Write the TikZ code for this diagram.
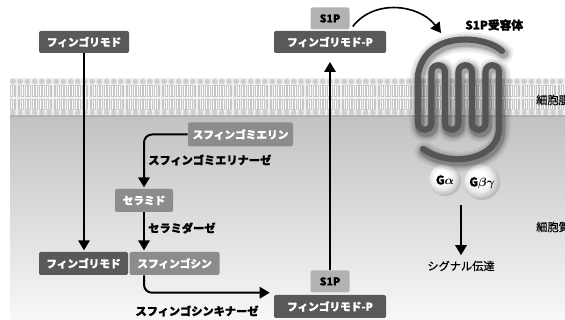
\documentclass[tikz,border=0pt]{standalone}
\usepackage{fontspec}
\setmainfont{Noto Sans CJK JP}[BoldFeatures={FakeBold=1.2}]
\newfontfamily\jpmed{Noto Sans CJK JP}[FakeBold=0.6]
\usetikzlibrary{arrows.meta,positioning}

\definecolor{drugbox}{HTML}{595959}
\definecolor{lipidbox}{HTML}{8C8C8C}
\definecolor{sopbox}{HTML}{B2B2B2}
\definecolor{rcptline}{HTML}{555555}
\definecolor{membrane}{HTML}{F0F0F0}

% shading for the G protein balls
\pgfdeclareradialshading{gball}{\pgfpoint{-7bp}{7bp}}{%
  color(0bp)=(white); color(10bp)=(white); color(18bp)=(black!7);
  color(24bp)=(black!20); color(27bp)=(black!28); color(50bp)=(black!28)}

% the receptor strand, seven helices
\newcommand\rcptpath{(502,51) .. controls (485,35) and (425,30) .. (418,75)
  -- (418,123) .. controls (418,132) and (431.5,132) .. (431.5,123)
  -- (431.5,72) .. controls (431.5,63) and (445,63) .. (445,72)
  -- (445,123) .. controls (445,132) and (458.5,132) .. (458.5,123)
  -- (458.5,72) .. controls (458.5,63) and (472,63) .. (472,72)
  -- (472,123) .. controls (472,132) and (485.5,132) .. (485.5,123)
  -- (485.5,72) .. controls (485.5,63) and (499,63) .. (499,72)
  -- (499,128) .. controls (499,160) and (450,168) .. (423,149)}

\begin{document}
\begin{tikzpicture}[x=0.75pt,y=-0.75pt,
  box/.style={rounded corners=1.5pt, inner sep=0pt, text=white,
    font=\fontsize{8}{9}\selectfont\bfseries},
  darkbox/.style={box, fill=drugbox},
  midbox/.style={box, fill=lipidbox},
  s1pbox/.style={box, fill=sopbox, text=black, minimum width=29.25pt, minimum height=16.5pt},
  enzyme/.style={inner sep=0pt, font=\fontsize{8.4}{10}\selectfont\bfseries},
  plain/.style={inner sep=0pt, font=\fontsize{8.4}{10}\selectfont\jpmed},
  flow/.style={line width=1.5pt, -{Triangle[width=8.5pt,length=7.5pt]}},
  lipidhead/.style={fill=black!19},
  lipidtail/.style={draw=black!22, fill=white, line width=0.3pt},
]
\useasboundingbox (0,0) rectangle (565,320);
\clip (0,0) rectangle (565,320);

% cytoplasm and bilayer
\shade[top color=black!24, bottom color=black!3] (10,116) rectangle (565,320);
\fill[membrane] (10,78) rectangle (565,116);
\foreach \x in {13,20.2,...,566} {
  \foreach \dx in {-1.6,1.6} {
    \draw[lipidtail] (\x+\dx-0.9,85) rectangle (\x+\dx+0.9,96.5);
    \draw[lipidtail] (\x+\dx-0.9,99.5) rectangle (\x+\dx+0.9,109);
  }
  \fill[lipidhead] (\x,81.5) circle[radius=2.1pt];
  \fill[lipidhead] (\x,112.5) circle[radius=2.1pt];
}
\fill[black!30] (10,115.5) rectangle (565,117);

% G proteins
\shade[shading=gball] (445,180) circle[radius=12pt];
\shade[shading=gball] (482,182) circle[radius=13.5pt];
\node[inner sep=0pt, font=\fontsize{9}{10}\selectfont\bfseries] (ga) at (445,180) {G{\boldmath$\alpha$}};
\node[inner sep=0pt, font=\fontsize{9}{10}\selectfont\bfseries] (gbg) at (482,183) {G{\boldmath$\beta\gamma$}};

% receptor with its soft shadow
\foreach \w/\o in {15pt/0.06,12pt/0.08,9pt/0.12,7pt/0.15}
  \draw[black, opacity=\o, line width=\w, line cap=round, line join=round,
    shift={(1.5,2.5)}] \rcptpath;
\draw[rcptline, line width=4.6pt, line cap=round, line join=round] \rcptpath;
\node[enzyme, anchor=west, font=\fontsize{8.8}{10}\selectfont\bfseries] (rcpt) at (465,25) {S1P受容体};

% boxes
\node[darkbox, minimum width=67.5pt, minimum height=16.5pt] (fing) at (84,42) {フィンゴリモド};
\node[darkbox, minimum width=66.75pt, minimum height=17.25pt] (fingb) at (83.5,263.5) {フィンゴリモド};
\node[midbox, minimum width=67.5pt, minimum height=17.25pt, right=0.75pt of fingb] (sph) {スフィンゴシン};
\node[midbox, minimum width=43.5pt, minimum height=17.25pt] (cer) at (144,200.5) {セラミド};
\node[midbox, minimum width=78.75pt, minimum height=18pt] (sm) at (240.5,134.5) {スフィンゴミエリン};
\node[darkbox, minimum width=84pt, minimum height=16.5pt] (fingPt) at (330,42) {フィンゴリモド-P};
\node[s1pbox, above=0.75pt of fingPt] (s1pt) {S1P};
\node[darkbox, minimum width=84pt, minimum height=17.25pt] (fingPb) at (330,306.5) {フィンゴリモド-P};
\node[s1pbox, above=1.5pt of fingPb] (s1pb) {S1P};

% enzyme labels
\node[enzyme, anchor=west] (smase) at (148,160) {スフィンゴミエリナーゼ};
\node[enzyme, anchor=west] (cdase) at (148,228) {セラミダーゼ};
\node[enzyme] (sk) at (197,311) {スフィンゴシンキナーゼ};

% compartments
\node[plain, anchor=west] (mem) at (536,100) {細胞膜};
\node[plain, anchor=west] (cyto) at (536,227) {細胞質};
\node[plain] (sig) at (461,266) {シグナル伝達};
\coordinate (gout) at (461,205);
\coordinate (rcptin) at (441,33);

% pathway
\draw[flow, shorten >=1pt] (fing.south) -- (fing.south |- fingb.north);
\draw[flow, rounded corners=6pt, shorten >=1pt] (sm.west) -| (cer.north);
\draw[flow, shorten >=1pt] (cer.south) -- (cer.south |- sph.north);
\draw[flow, rounded corners=6pt, shorten >=3pt] (cer.south |- sph.south) |- ([yshift=1.5pt]fingPb.north west);
\draw[flow, shorten >=6.5pt] (s1pb.north) -- (s1pb.north |- fingPt.south);
\draw[line width=1.2pt, -{Triangle[width=8.5pt,length=7.5pt]}]
  ([shift={(3,8)}]s1pt.east) .. controls (375,-2) and (420,5) .. (rcptin);
\draw[flow, shorten >=4pt] (gout) -- (sig.north);
\end{tikzpicture}
\end{document}
